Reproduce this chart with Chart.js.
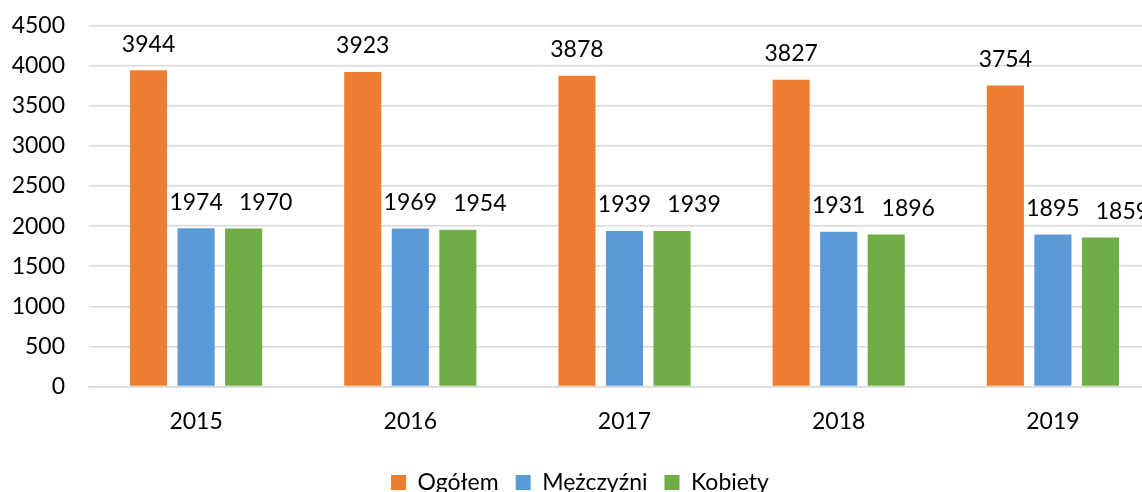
<!DOCTYPE html>
<html>
<head>
<meta charset="utf-8">
<script src="https://cdn.jsdelivr.net/npm/chart.js@4"></script>
<style>
  body { margin: 0; overflow: hidden; background: #fff; }
  /* shifted up a little so the top gridline sits where it does in the original */
  #wrap { width: 1160px; height: 516px; margin-top: -12px; }
</style>
</head>
<body>
<div id="wrap"><canvas id="barChart"></canvas></div>
<script>
// ---------------- DATA ----------------
const years = ['2015', '2016', '2017', '2018', '2019'];
const ogolem = [3944, 3923, 3878, 3827, 3754];
const mezczyzni = [1974, 1969, 1939, 1931, 1895];
const kobiety = [1970, 1954, 1939, 1896, 1859];

const FONT = 'Lato, "Open Sans", sans-serif';
const FONT_SIZE = 23;

// value labels above each bar (green ones sit a bit to the right, like in the original)
const valueLabels = {
    id: 'valueLabels',
    afterDatasetsDraw(chart) {
        const ctx = chart.ctx;
        ctx.save();
        ctx.font = FONT_SIZE + 'px ' + FONT;
        ctx.fillStyle = '#000';
        ctx.textAlign = 'center';
        ctx.textBaseline = 'middle';
        chart.data.datasets.forEach((ds, i) => {
            const meta = chart.getDatasetMeta(i);
            const shift = i === 2 ? 22 : 0;
            meta.data.forEach((bar, j) => {
                ctx.fillText(ds.data[j], bar.x + shift, bar.y - 26);
            });
        });
        ctx.restore();
    }
};

const barCtx = document.getElementById('barChart');

new Chart(barCtx, {
    type: 'bar',
    data: {
        labels: years,
        datasets: [
            { label: 'Ogółem', data: ogolem, backgroundColor: '#ED7D31' },
            { label: 'Mężczyźni', data: mezczyzni, backgroundColor: '#5B9BD5' },
            { label: 'Kobiety', data: kobiety, backgroundColor: '#70AD47' }
        ]
    },
    options: {
        responsive: true,
        maintainAspectRatio: false,
        animation: false,
        datasets: {
            bar: { categoryPercentage: 0.666, barPercentage: 0.78 }
        },
        plugins: {
            legend: {
                position: 'bottom',
                labels: {
                    font: { family: FONT, size: FONT_SIZE },
                    color: '#000',
                    boxWidth: 15,
                    boxHeight: 15,
                    padding: 17
                }
            },
            tooltip: { enabled: false }
        },
        scales: {
            x: {
                // a bit of extra room between the year labels and the legend
                afterFit: (scale) => { scale.height += 6; },
                grid: { display: false },
                border: { color: '#d9d9d9', width: 1.5 },
                ticks: { font: { family: FONT, size: FONT_SIZE }, color: '#000', padding: 13 }
            },
            y: {
                min: 0,
                max: 4500,
                // fixed axis width so the plot starts where the original does
                afterFit: (scale) => { scale.width = 89; },
                ticks: {
                    stepSize: 500,
                    font: { family: FONT, size: FONT_SIZE },
                    color: '#000',
                    padding: 24,
                    callback: (v) => String(v)
                },
                grid: { color: '#d9d9d9', lineWidth: 1.5, drawTicks: false },
                border: { display: false }
            }
        }
    },
    plugins: [valueLabels]
});
</script>
</body>
</html>
